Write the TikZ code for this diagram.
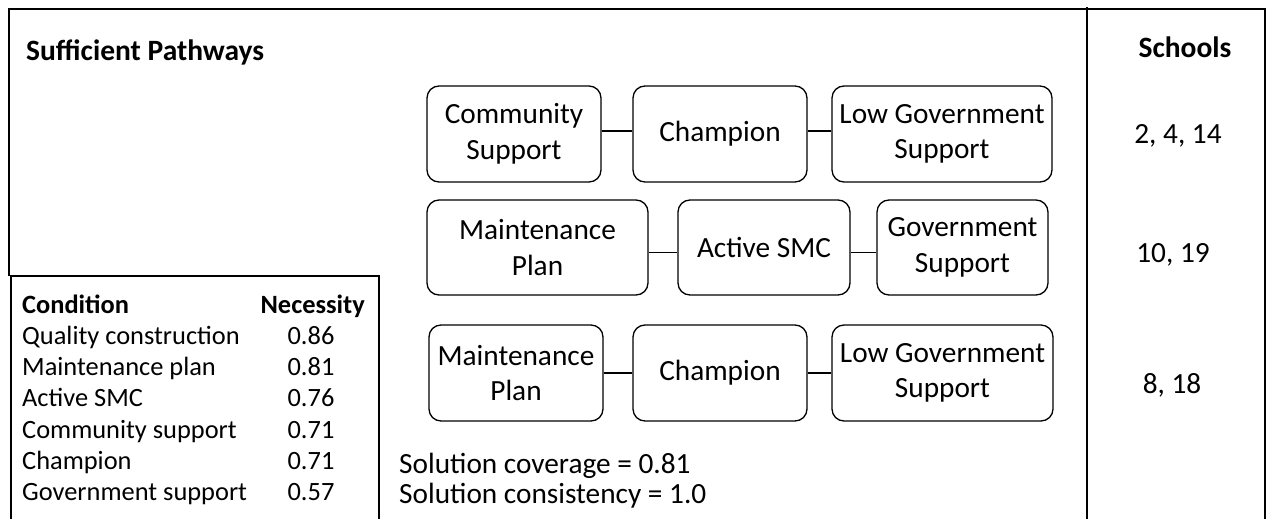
\documentclass[tikz,border=0pt]{standalone}
\usepackage{fontspec}
\setmainfont{Carlito}
\usepackage{tikz}

\newcommand{\boxfont}{\fontsize{29.3}{35.5}\selectfont}
\newcommand{\tabfont}{\fontsize{26.4}{31.3}\selectfont}
\newcommand{\headfont}{\fontsize{29.5}{36}\selectfont\bfseries}

\tikzset{
  pathbox/.style={draw, line width=1.3pt, rounded corners=12pt, align=center, inner sep=0pt, font=\boxfont},
  tabtext/.style={inner sep=0pt, font=\tabfont},
}

\begin{document}
\begin{tikzpicture}[x=1pt,y=-1pt]
    \useasboundingbox (0,0) rectangle (1266,519);

    %Shape: Frame
    \draw [line width=2pt] (9,276) -- (9,9) -- (1265,9) -- (1265,519) ;
    \draw [line width=2pt] (1087,7) -- (1087,519) ;
    %Shape: Rectangle (necessity table)
    \draw [line width=1.5pt] (11,524) -- (11,276) -- (379,276) -- (379,524) ;

    % Text Node
    \draw (26,60) node [anchor=base west][inner sep=0pt, font=\headfont]  (title) {Sufficient Pathways};
    % Text Node
    \draw (1185,58) node [anchor=base][inner sep=0pt, font=\headfont]  (schools) {Schools};

    %Rounded Rect row 1
    \draw (514,134) node [pathbox, minimum width=174, minimum height=96]  (cs1) {Community\\Support};
    \draw (720,134) node [pathbox, minimum width=174, minimum height=96]  (ch1) {Champion};
    \draw (942,134) node [pathbox, minimum width=220, minimum height=96]  (lg1) {Low Government\\Support};
    %Rounded Rect row 2
    \draw (537.5,247.5) node [pathbox, minimum width=221, minimum height=95]  (mp2) {Maintenance\\Plan};
    \draw (764,247.5) node [pathbox, minimum width=172, minimum height=95]  (sm2) {Active SMC};
    \draw (962.5,247.5) node [pathbox, minimum width=171, minimum height=95]  (gs2) {Government\\Support};
    %Rounded Rect row 3
    \draw (516,373) node [pathbox, minimum width=174, minimum height=96]  (mp3) {Maintenance\\Plan};
    \draw (720,373) node [pathbox, minimum width=174, minimum height=96]  (ch3) {Champion};
    \draw (942.5,373) node [pathbox, minimum width=221, minimum height=96]  (lg3) {Low Government\\Support};

    %Straight Lines
    \draw [line width=1.3pt] ([yshift=3pt]cs1.east) -- ([yshift=3pt]cs1.east -| ch1.west) ;
    \draw [line width=1.3pt] ([yshift=3pt]ch1.east) -- ([yshift=3pt]ch1.east -| lg1.west) ;
    \draw [line width=1.3pt] ([yshift=-5pt]mp2.east) -- ([yshift=-5pt]mp2.east -| sm2.west) ;
    \draw [line width=1.3pt] ([yshift=-5pt]sm2.east) -- ([yshift=-5pt]sm2.east -| gs2.west) ;
    \draw [line width=1.3pt] (mp3.east) -- (ch3.west) ;
    \draw [line width=1.3pt] (ch3.east) -- (lg3.west) ;

    % Text Node
    \draw (1178,143) node [anchor=base][inner sep=0pt, font=\boxfont]  (sc1) {2, 4, 14};
    % Text Node
    \draw (1173,262) node [anchor=base][inner sep=0pt, font=\boxfont]  (sc2) {10, 19};
    % Text Node
    \draw (1172,393) node [anchor=base][inner sep=0pt, font=\boxfont]  (sc3) {8, 18};

    % Text Node
    \draw (399,473) node [anchor=base west][inner sep=0pt, font=\boxfont]  (cov) {Solution coverage = 0.81};
    % Text Node
    \draw (399,503) node [anchor=base west][inner sep=0pt, font=\boxfont]  (con) {Solution consistency = 1.0};

    % Text Node
    \draw (22,313) node [anchor=base west][tabtext]  (cond) {\bfseries Condition};
    \draw (365,313) node [anchor=base east][tabtext]  (nec) {\bfseries Necessity};
    \draw (22,344.3) node [anchor=base west][tabtext]  (c1) {Quality construction};
    \draw (311,344.3) node [anchor=base][tabtext]  (n1) {0.86};
    \draw (22,375.6) node [anchor=base west][tabtext]  (c2) {Maintenance plan};
    \draw (311,375.6) node [anchor=base][tabtext]  (n2) {0.81};
    \draw (22,406.9) node [anchor=base west][tabtext]  (c3) {Active SMC};
    \draw (311,406.9) node [anchor=base][tabtext]  (n3) {0.76};
    \draw (22,438.2) node [anchor=base west][tabtext]  (c4) {Community support};
    \draw (311,438.2) node [anchor=base][tabtext]  (n4) {0.71};
    \draw (22,469.5) node [anchor=base west][tabtext]  (c5) {Champion};
    \draw (311,469.5) node [anchor=base][tabtext]  (n5) {0.71};
    \draw (22,500.8) node [anchor=base west][tabtext]  (c6) {Government support};
    \draw (311,500.8) node [anchor=base][tabtext]  (n6) {0.57};

\end{tikzpicture}
\end{document}
